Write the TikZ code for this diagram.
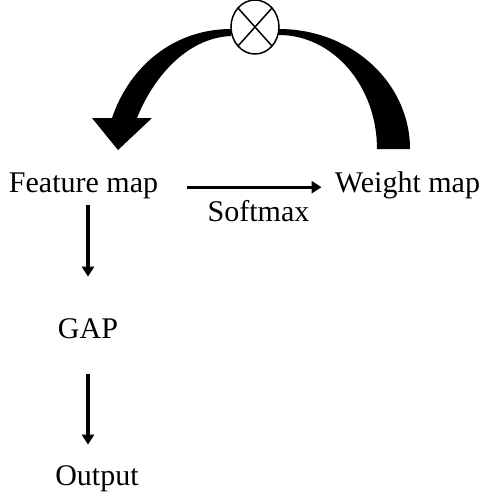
\documentclass[tikz,border=0pt]{standalone}
\usepackage{fontspec}
\setmainfont{Liberation Serif}
\usepackage{tikz}
\usetikzlibrary{arrows.meta}

\begin{document}
\begin{tikzpicture}[x=0.5pt,y=-0.5pt,
		lbl/.style={inner sep=0pt,anchor=base,text height=0.7em,text depth=0.22em,font=\fontsize{15}{18}\selectfont},
		arr/.style={line width=1.6pt,-{Triangle[length=5pt,width=6pt]}}]
			\useasboundingbox (0,0) rectangle (485,495);
			
			\node[lbl] (fm)at(83.5,192) {Feature map};
			\node[lbl] (wm)at(407.5,192) {Weight map};
			\node[lbl] (sm)at(258.5,221) {Softmax};
			\node[lbl] (gap)at(88,338) {GAP};
			\node[lbl] (out)at(97,485) {Output};
			
			\fill (231,29) .. controls (175,29) and (130,65) .. (112,118) -- (92,118) -- (118,150) -- (152,118) -- (137,118) .. controls (152,80) and (185,38) .. (231,36) -- cycle;
			\fill (279,29) .. controls (351.4,29) and (410,82.7) .. (410,149) -- (377,149) .. controls (377,86) and (333.1,35) .. (279,35) -- cycle;
			\draw[line width=0.75pt,fill=white] (255,27) ellipse [x radius=24,y radius=27];
			\draw[line width=0.75pt] (238,8) -- (272,46);
			\draw[line width=0.75pt] (238,46) -- (272,8);
			
			\draw[arr,shorten <=14.5pt,shorten >=6.5pt] (fm) -- (wm);
			\draw[arr,shorten <=4.2pt,shorten >=23.5pt] (fm.south -| gap) -- (gap.north);
			\draw[arr,shorten <=15.5pt,shorten >=13pt] (gap.south) -- (gap.south |- out.north);
		\end{tikzpicture}
\end{document}
